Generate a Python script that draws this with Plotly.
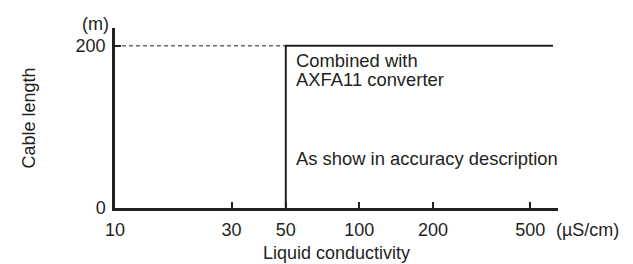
import math
import plotly.graph_objects as go

# Data
x_tick_vals = [10, 30, 50, 100, 200, 500]
x_tick_text = ["10", "30", "50", "100", "200", "500"]
y_tick_vals = [0, 200]
y_tick_text = ["0", "200"]
limit_x = [50, 50, 620]
limit_y = [0, 200, 200]
dash_x = [10, 50]
dash_y = [200, 200]
threshold_conductivity = 50
label_upper = ["Combined with", "AXFA11 converter"]
label_lower = "As show in accuracy description"

INK = "#231f20"
FONT = "Liberation Sans, Arial, sans-serif"
FS = 18
AFS = 18.4

fig = go.Figure()
fig.add_trace(go.Scatter(x=dash_x, y=dash_y, mode="lines",
                         line=dict(color=INK, width=1, dash="4px,3px"),
                         showlegend=False, hoverinfo="skip"))
fig.add_trace(go.Scatter(x=limit_x, y=limit_y, mode="lines",
                         line=dict(color=INK, width=2),
                         showlegend=False, hoverinfo="skip"))

xl = math.log10(threshold_conductivity)
ann = []
ann.append(dict(x=xl, y=200, xref="x", yref="y", text=label_upper[0], showarrow=False,
                xanchor="left", yanchor="middle", xshift=8, yshift=-15, font=dict(size=AFS)))
ann.append(dict(x=xl, y=200, xref="x", yref="y", text=label_upper[1], showarrow=False,
                xanchor="left", yanchor="middle", xshift=8, yshift=-34, font=dict(size=AFS)))
ann.append(dict(x=xl, y=200, xref="x", yref="y", text=label_lower, showarrow=False,
                xanchor="left", yanchor="middle", xshift=8, yshift=-113, font=dict(size=AFS)))
ann.append(dict(x=0, y=1, xref="paper", yref="paper", text="(m)", showarrow=False,
                xanchor="right", yanchor="bottom", xshift=-4, yshift=-8, font=dict(size=FS)))
ann.append(dict(x=1, y=0, xref="paper", yref="paper", text="(µS/cm)", showarrow=False,
                xanchor="left", yanchor="top", xshift=-4, yshift=-10, font=dict(size=FS)))
for a in ann:
    a["font"].update(family=FONT, color=INK)

fig.update_layout(
    width=633, height=264,
    margin=dict(l=115, r=75, t=28, b=56, autoexpand=False),
    paper_bgcolor="white", plot_bgcolor="white",
    font=dict(family=FONT, size=FS, color=INK),
    annotations=ann,
    xaxis=dict(type="log", range=[1, math.log10(650)],
               tickvals=x_tick_vals, ticktext=x_tick_text,
               ticks="inside", ticklen=6, tickwidth=2, tickcolor=INK,
               ticklabelstandoff=4, automargin=False,
               showline=True, linecolor=INK, linewidth=2.5,
               showgrid=False, zeroline=False,
               title=dict(text="Liquid conductivity", standoff=8, font=dict(size=FS))),
    yaxis=dict(range=[0, 222],
               tickvals=y_tick_vals, ticktext=y_tick_text,
               ticks="inside", ticklen=6, tickwidth=2, tickcolor=INK,
               ticklabelstandoff=3, automargin=False,
               showline=True, linecolor=INK, linewidth=2.5,
               showgrid=False, zeroline=False,
               title=dict(text="Cable length", standoff=36, font=dict(size=FS))),
)

fig.write_html("out.html", config={"displayModeBar": False},
               post_script="document.body.style.margin='0px';")
